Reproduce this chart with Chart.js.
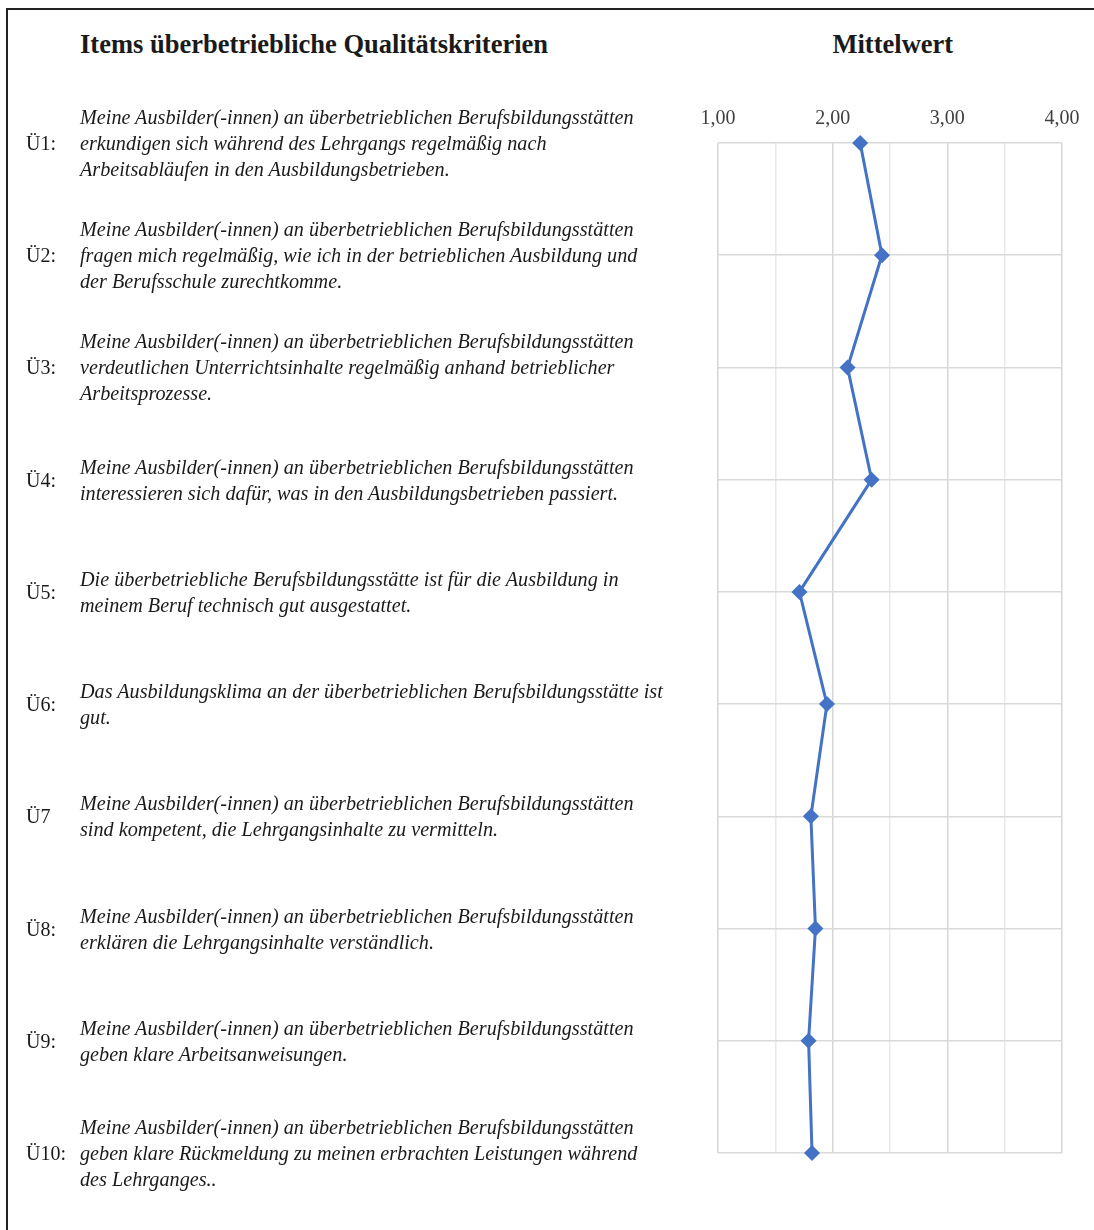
<!DOCTYPE html>
<html lang="de">
<head>
<meta charset="utf-8">
<title>Items überbetriebliche Qualitätskriterien – Mittelwert</title>
<script src="https://cdn.jsdelivr.net/npm/chart.js@4.4.1/dist/chart.umd.min.js"></script>
<style>
    html, body { margin: 0; padding: 0; background: #fff; }
    body { width: 1094px; height: 1230px; position: relative; overflow: hidden; font-family: "Liberation Serif", "Times New Roman", serif; color: #1a1a1a; }
    #frame { position: absolute; left: 6px; top: 8px; width: 1200px; height: 1300px; border-left: 2px solid #222; border-top: 2px solid #222; }
    #chart { position: absolute; left: 0; top: 0; }
    .head { position: absolute; font-weight: bold; font-size: 26.5px; line-height: 30px; top: 29px; white-space: nowrap; }
    .code { position: absolute; left: 26px; font-size: 20px; line-height: 26px; white-space: nowrap; }
    .item { position: absolute; left: 80px; font-size: 20.2px; line-height: 26px; font-style: italic; white-space: nowrap; }
</style>
</head>
<body>
<div id="frame"></div>
<div class="head" style="left:80px;">Items überbetriebliche Qualitätskriterien</div>
<div class="head" id="meanHead">Mittelwert</div>
<canvas id="chart" width="1094" height="1230"></canvas>
<div id="items"></div>
<script>
// Item codes (category axis)
const categories = ['Ü1:', 'Ü2:', 'Ü3:', 'Ü4:', 'Ü5:', 'Ü6:', 'Ü7', 'Ü8:', 'Ü9:', 'Ü10:'];

// Item wording, one array of lines per item
const itemLines = [
    ['Meine Ausbilder(-innen) an überbetrieblichen Berufsbildungsstätten', 'erkundigen sich während des Lehrgangs regelmäßig nach', 'Arbeitsabläufen in den Ausbildungsbetrieben.'],
    ['Meine Ausbilder(-innen) an überbetrieblichen Berufsbildungsstätten', 'fragen mich regelmäßig, wie ich in der betrieblichen Ausbildung und', 'der Berufsschule zurechtkomme.'],
    ['Meine Ausbilder(-innen) an überbetrieblichen Berufsbildungsstätten', 'verdeutlichen Unterrichtsinhalte regelmäßig anhand betrieblicher', 'Arbeitsprozesse.'],
    ['Meine Ausbilder(-innen) an überbetrieblichen Berufsbildungsstätten', 'interessieren sich dafür, was in den Ausbildungsbetrieben passiert.'],
    ['Die überbetriebliche Berufsbildungsstätte ist für die Ausbildung in', 'meinem Beruf technisch gut ausgestattet.'],
    ['Das Ausbildungsklima an der überbetrieblichen Berufsbildungsstätte ist', 'gut.'],
    ['Meine Ausbilder(-innen) an überbetrieblichen Berufsbildungsstätten', 'sind kompetent, die Lehrgangsinhalte zu vermitteln.'],
    ['Meine Ausbilder(-innen) an überbetrieblichen Berufsbildungsstätten', 'erklären die Lehrgangsinhalte verständlich.'],
    ['Meine Ausbilder(-innen) an überbetrieblichen Berufsbildungsstätten', 'geben klare Arbeitsanweisungen.'],
    ['Meine Ausbilder(-innen) an überbetrieblichen Berufsbildungsstätten', 'geben klare Rückmeldung zu meinen erbrachten Leistungen während', 'des Lehrganges..']
];

// Mean values per item
const meanValues = [2.24, 2.43, 2.13, 2.34, 1.71, 1.95, 1.81, 1.85, 1.79, 1.82];

// Value axis
const axisMin = 1;
const axisMax = 4;
const axisStep = 0.5;

const fmt = v => v.toFixed(2).replace('.', ',');

const chart = new Chart(document.getElementById('chart'), {
    type: 'line',
    data: {
        labels: categories,
        datasets: [{
            label: 'Mittelwert',
            data: meanValues,
            borderColor: '#4472C4',
            backgroundColor: '#4472C4',
            borderWidth: 3,
            pointStyle: 'rectRot',
            pointRadius: 8,
            pointBorderWidth: 0,
            tension: 0,
            clip: false
        }]
    },
    options: {
        indexAxis: 'y',
        responsive: false,
        animation: false,
        layout: { padding: { left: 718, right: 32, top: 95, bottom: 77 } },
        plugins: { legend: { display: false }, tooltip: { enabled: false } },
        scales: {
            x: {
                type: 'linear',
                position: 'top',
                min: axisMin,
                max: axisMax,
                ticks: {
                    stepSize: axisStep,
                    padding: 12,
                    color: '#404040',
                    font: { family: 'Liberation Serif', size: 20 },
                    callback: v => (v % 1 === 0 ? fmt(v) : '')
                },
                grid: {
                    drawTicks: false,
                    color: c => (c.tick && c.tick.value % 1 === 0 ? '#d6d6d6' : '#e9e9e9'),
                    lineWidth: 1.5
                },
                border: { display: false }
            },
            y: {
                type: 'category',
                ticks: { display: false },
                grid: { drawTicks: false, color: '#d9d9d9', lineWidth: 1.5 },
                border: { display: false }
            }
        }
    }
});

// Place item codes and wording on the category positions
const box = document.getElementById('items');
const lh = 26;
categories.forEach((code, i) => {
    const y = chart.scales.y.getPixelForValue(i);
    const c = document.createElement('div');
    c.className = 'code';
    c.style.top = (y - lh / 2) + 'px';
    c.textContent = code;
    box.appendChild(c);
    const t = document.createElement('div');
    t.className = 'item';
    t.style.top = (y - itemLines[i].length * lh / 2) + 'px';
    t.innerHTML = itemLines[i].join('<br>');
    box.appendChild(t);
});

// Header over the plot, slightly right of centre as in the original
const head = document.getElementById('meanHead');
const area = chart.chartArea;
head.style.left = ((area.left + area.right) / 2 + 3 - head.offsetWidth / 2) + 'px';
</script>
</body>
</html>
